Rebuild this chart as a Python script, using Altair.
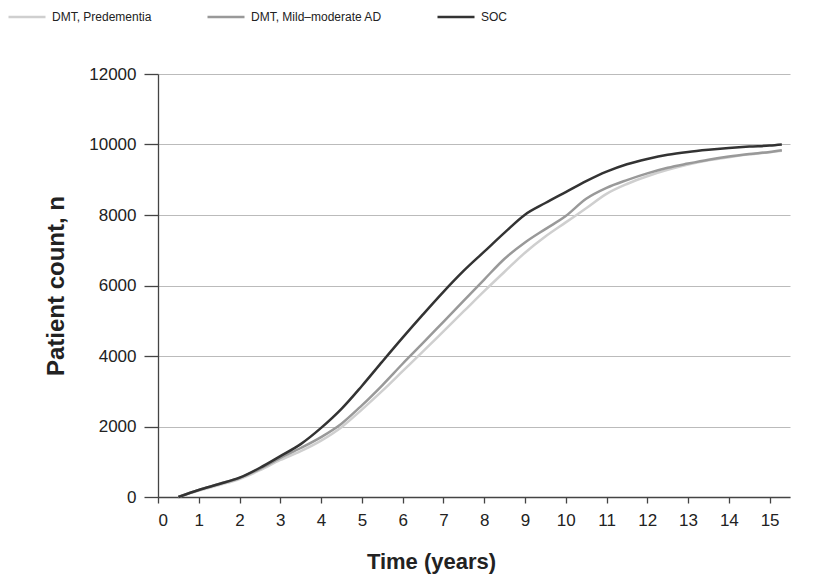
import altair as alt
import pandas as pd

years = [0.5, 1, 1.5, 2, 2.5, 3, 3.5, 4, 4.5, 5, 5.5, 6, 6.5, 7, 7.5, 8, 8.5, 9,
         9.5, 10, 10.5, 11, 11.5, 12, 12.5, 13, 13.5, 14, 14.5, 15, 15.3]

dmt_predementia = [0, 180, 340, 510, 760, 1050, 1300, 1600, 1980, 2480, 3010, 3570,
                   4130, 4700, 5270, 5840, 6390, 6930, 7390, 7790, 8190, 8600, 8880,
                   9100, 9280, 9430, 9550, 9640, 9720, 9780, 9820]
dmt_mild_moderate = [0, 200, 370, 540, 800, 1110, 1390, 1700, 2080, 2600, 3170, 3780,
                     4370, 4970, 5570, 6170, 6760, 7220, 7600, 7970, 8460, 8770, 8990,
                     9180, 9340, 9460, 9570, 9660, 9730, 9790, 9840]
soc = [0, 200, 370, 550, 830, 1160, 1500, 1960, 2500, 3150, 3840, 4520, 5180, 5820,
       6420, 6960, 7500, 8010, 8340, 8650, 8960, 9230, 9440, 9590, 9710, 9790, 9850,
       9900, 9940, 9970, 10000]

series_names = ["DMT, Predementia", "DMT, Mild\u2013moderate AD", "SOC"]
series_colors = ["#cfcfcf", "#999999", "#333333"]

x_ticks = [i * 0.5 for i in range(32)]
y_ticks = [0, 2000, 4000, 6000, 8000, 10000, 12000]

rows = []
for name, vals in zip(series_names, [dmt_predementia, dmt_mild_moderate, soc]):
    for t, v in zip(years, vals):
        rows.append({"series": name, "t": t, "n": v})
df = pd.DataFrame(rows)

chart = alt.Chart(df).mark_line(strokeWidth=2.5, interpolate="monotone").encode(
    x=alt.X("t:Q",
            scale=alt.Scale(domain=[0, 15.5], nice=False, zero=False),
            axis=alt.Axis(values=x_ticks, title="Time (years)", grid=False, format="d",
                          labelExpr="datum.value % 1 == 0 ? datum.label : ''",
                          tickSize=6, labelPadding=9, labelFontSize=17,
                          titleFontSize=22, titleFontWeight="bold",
                          titleX=273, titlePadding=23)),
    y=alt.Y("n:Q",
            scale=alt.Scale(domain=[0, 12000], nice=False),
            axis=alt.Axis(values=y_ticks, format="d", title="Patient count, n",
                          grid=True, tickSize=14, labelPadding=8, labelFontSize=17,
                          titleFontSize=24, titleFontWeight="bold", titlePadding=20)),
    color=alt.Color("series:N",
                    scale=alt.Scale(domain=series_names, range=series_colors),
                    sort=series_names,
                    legend=alt.Legend(title=None, orient="none", legendX=-151, legendY=-77,
                                      direction="horizontal", symbolType="stroke",
                                      symbolSize=1369, symbolStrokeWidth=2.5,
                                      labelFontSize=12, labelFont="Liberation Sans",
                                      labelColor="#222222", columnPadding=50,
                                      labelOffset=5)),
    order=alt.Order("series:N"),
).properties(
    width=632,
    height=423,
    autosize=alt.AutoSizeParams(type="none"),
    padding={"left": 150, "top": 66, "right": 16, "bottom": 79},
).configure_view(
    stroke=None
).configure_axis(
    labelFont="Liberation Sans",
    titleFont="Liberation Sans",
    labelColor="#222222",
    titleColor="#222222",
    domainColor="#444444",
    tickColor="#444444",
    domainWidth=1.3,
    tickWidth=1.3,
    gridColor="#bbbbbb",
    gridWidth=1.2,
)

chart.save("out.html", embed_options={"renderer": "svg", "actions": False})
